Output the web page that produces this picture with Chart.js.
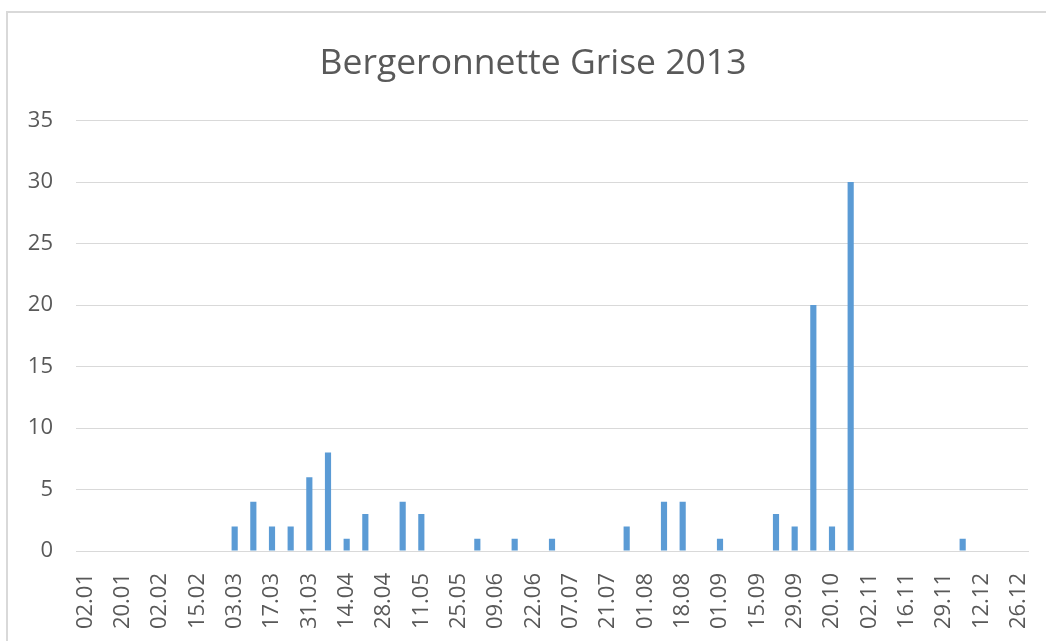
<!DOCTYPE html>
<html lang="fr">
<head>
  <meta charset="UTF-8" />
  <title>Bergeronnette Grise 2013</title>
  <style>
    html, body {
      margin: 0;
      padding: 0;
      background: #fff;
      overflow: hidden;
    }
    #wrap {
      position: relative;
      width: 1046px;
      height: 641px;
    }
    #frame {
      position: absolute;
      left: 6px;
      top: 11px;
      right: -10px;
      bottom: -10px;
      border-left: 2px solid #d9d9d9;
      border-top: 2px solid #d9d9d9;
    }
    canvas {
      position: absolute;
      left: 0;
      top: 0;
    }
  </style>
</head>
<body>
  <div id="wrap">
    <div id="frame"></div>
    <canvas id="chart" width="1046" height="641"></canvas>
  </div>

  <script src="https://cdn.jsdelivr.net/npm/chart.js"></script>
  <script>
    // dates des relevés (une sur deux affichée sur l'axe)
    const dates = [
      '02.01', '10.01', '20.01', '27.01', '02.02', '09.02', '15.02', '23.02',
      '03.03', '10.03', '17.03', '24.03', '31.03', '07.04', '14.04', '21.04',
      '28.04', '05.05', '11.05', '18.05', '25.05', '01.06', '09.06', '16.06',
      '22.06', '29.06', '07.07', '14.07', '21.07', '28.07', '01.08', '10.08',
      '18.08', '25.08', '01.09', '08.09', '15.09', '22.09', '29.09', '06.10',
      '20.10', '27.10', '02.11', '09.11', '16.11', '23.11', '29.11', '06.12',
      '12.12', '19.12', '26.12'
    ];

    // nombre d'individus observés
    const counts = [
      0, 0, 0, 0, 0, 0, 0, 0,
      2, 4, 2, 2, 6, 8, 1, 3,
      0, 4, 3, 0, 0, 1, 0, 1,
      0, 1, 0, 0, 0, 2, 0, 4,
      4, 0, 1, 0, 0, 3, 2, 20,
      2, 30, 0, 0, 0, 0, 0, 1,
      0, 0, 0
    ];

    const yTicks = [0, 5, 10, 15, 20, 25, 30, 35];

    const grey = '#595959';
    const gridColor = '#d9d9d9';
    const font = 'Open Sans';

    new Chart(document.getElementById('chart'), {
      type: 'bar',
      data: {
        labels: dates,
        datasets: [{
          label: 'Bergeronnette Grise',
          data: counts,
          backgroundColor: '#5b9bd5',
          categoryPercentage: 1,
          barPercentage: 0.33
        }]
      },
      options: {
        responsive: false,
        animation: false,
        layout: {
          padding: { top: 41, right: 0, left: 20, bottom: 0 }
        },
        plugins: {
          legend: { display: false },
          tooltip: { enabled: false },
          title: {
            display: true,
            text: 'Bergeronnette Grise 2013',
            color: grey,
            font: { family: font, size: 35.5, weight: 'normal' },
            padding: { top: 2, bottom: 35 }
          }
        },
        scales: {
          x: {
            grid: { display: false },
            border: { display: true, color: gridColor },
            ticks: {
              autoSkip: false,
              minRotation: 90,
              maxRotation: 90,
              padding: 14,
              color: grey,
              font: { family: font, size: 22 },
              callback: (v, i) => (i % 2 === 0 ? dates[i] : '')
            },
            afterFit: (s) => {
              s.height = 90;
              s.paddingLeft = 0;
              s.paddingRight = 18;
            }
          },
          y: {
            min: 0,
            max: yTicks[yTicks.length - 1],
            afterBuildTicks: (s) => { s.ticks = yTicks.map(v => ({ value: v })); },
            grid: { color: gridColor, drawTicks: false },
            border: { display: false },
            ticks: {
              padding: 23,
              color: grey,
              font: { family: font, size: 22 }
            },
            afterFit: (s) => { s.width = 56; }
          }
        }
      }
    });
  </script>
</body>
</html>
